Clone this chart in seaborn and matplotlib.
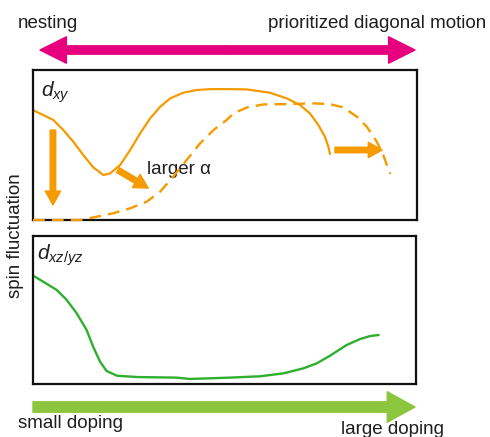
import numpy as np
import seaborn as sns
import matplotlib.pyplot as plt

# schematic: spin fluctuation vs doping for d_xy and d_xz/yz orbitals
# x = doping (0..1 across panel), y = fluctuation strength (0..1)

# d_xy, small alpha (solid)
xy_x = [0.0, 0.027, 0.053, 0.079, 0.105, 0.131, 0.157, 0.183, 0.201, 0.227,
        0.253, 0.279, 0.305, 0.331, 0.357, 0.391, 0.426, 0.461, 0.513, 0.557,
        0.617, 0.661, 0.695, 0.721, 0.743, 0.760, 0.769, 0.773]
xy_y = [0.733, 0.70, 0.667, 0.60, 0.522, 0.433, 0.351, 0.30, 0.311, 0.367,
        0.467, 0.578, 0.678, 0.755, 0.811, 0.849, 0.867, 0.873, 0.873, 0.871,
        0.849, 0.811, 0.767, 0.711, 0.633, 0.555, 0.489, 0.44]

# d_xy, larger alpha (dashed)
xy2_x = [0.0, 0.122, 0.166, 0.209, 0.253, 0.296, 0.331, 0.365, 0.40, 0.435,
         0.47, 0.504, 0.522, 0.557, 0.60, 0.661, 0.73, 0.773, 0.808, 0.843,
         0.869, 0.895, 0.912, 0.921, 0.93]
xy2_y = [0.0, 0.0, 0.022, 0.045, 0.078, 0.122, 0.189, 0.289, 0.40, 0.511,
         0.60, 0.667, 0.711, 0.751, 0.771, 0.773, 0.778, 0.773, 0.751, 0.689,
         0.622, 0.522, 0.433, 0.367, 0.307]

# d_xz/yz (green)
xz_x = [0.0, 0.027, 0.062, 0.088, 0.114, 0.14, 0.157, 0.175, 0.192, 0.219,
        0.271, 0.375, 0.41, 0.514, 0.593, 0.654, 0.706, 0.741, 0.775, 0.819,
        0.854, 0.88, 0.902]
xz_y = [0.732, 0.691, 0.635, 0.568, 0.478, 0.365, 0.252, 0.151, 0.088, 0.056,
        0.047, 0.043, 0.034, 0.043, 0.052, 0.072, 0.106, 0.14, 0.191, 0.264,
        0.304, 0.324, 0.331]

orange = "#F59B00"
green = "#2EAF2E"
magenta = "#E6007E"
lime = "#8CC63F"
txt = "#1e1e1e"

sns.set_style("white")
plt.rcParams['font.family'] = ['Liberation Sans', 'DejaVu Sans']
plt.rcParams['mathtext.fontset'] = 'custom'
plt.rcParams['mathtext.it'] = 'Liberation Sans:italic'
plt.rcParams['mathtext.rm'] = 'Liberation Sans'

fig = plt.figure(figsize=(4.9, 4.37), dpi=100)
ax1 = fig.add_axes([0.0673, 0.4966, 0.784, 0.343])
ax2 = fig.add_axes([0.0673, 0.1213, 0.782, 0.3387])
over = fig.add_axes([0, 0, 1, 1], facecolor="none")
over.set_xlim(0, 490)
over.set_ylim(437, 0)
over.axis("off")

for ax in (ax1, ax2):
    ax.set_xlim(0, 1)
    ax.set_ylim(0, 1)
    ax.set_xticks([])
    ax.set_yticks([])
    for s in ax.spines.values():
        s.set_visible(True)
        s.set_color("#111111")
        s.set_linewidth(1.6)

# top panel
sns.lineplot(x=xy_x, y=xy_y, ax=ax1, color=orange, lw=1.6,
             solid_joinstyle="round", solid_capstyle="round")
l2 = sns.lineplot(x=xy2_x, y=xy2_y, ax=ax1, color=orange, lw=1.7).lines[-1]
l2.set_dashes((5, 3))
l2.set_clip_on(False)
l2.set_zorder(4)

arr = dict(arrowstyle="simple,head_width=1.1,head_length=1.0,tail_width=0.4",
           color=orange, shrinkA=0, shrinkB=0)
ax1.annotate("", xy=(0.052, 0.10), xytext=(0.052, 0.60), arrowprops=arr)
ax1.annotate("", xy=(0.30, 0.213), xytext=(0.221, 0.333), arrowprops=arr)
ax1.annotate("", xy=(0.909, 0.467), xytext=(0.786, 0.467), arrowprops=arr)
ax1.text(0.298, 0.34, "larger α", fontsize=13.5, va="center", ha="left", color=txt)
ax1.text(0.02, 0.85, r"$d_{xy}$", fontsize=15, va="center", ha="left", color=txt)

# bottom panel
sns.lineplot(x=xz_x, y=xz_y, ax=ax2, color=green, lw=1.7,
             solid_joinstyle="round", solid_capstyle="round")
ax2.text(0.01, 0.87, r"$d_{xz/yz}$", fontsize=15, va="center", ha="left", color=txt)

# outer arrows and labels (figure pixels)
big = dict(arrowstyle="simple,head_width=1.9,head_length=1.9,tail_width=0.6",
           color=magenta, shrinkA=0, shrinkB=0)
over.annotate("", xy=(40, 50), xytext=(228, 50), arrowprops=big)
over.annotate("", xy=(415, 50), xytext=(226, 50), arrowprops=big)
over.text(18, 24, "nesting", fontsize=13.5, va="center", ha="left", color=txt)
over.text(486, 24, "prioritized diagonal motion", fontsize=13.5, va="center", ha="right", color=txt)

grn = dict(arrowstyle="simple,head_width=2.2,head_length=2.0,tail_width=0.75",
           color=lime, shrinkA=0, shrinkB=0)
over.annotate("", xy=(415, 407), xytext=(33, 407), arrowprops=grn)
over.text(18, 423, "small doping", fontsize=13.5, va="center", ha="left", color=txt)
over.text(444, 429, "large doping", fontsize=13.5, va="center", ha="right", color=txt)

over.text(15, 236, "spin fluctuation", fontsize=13.5, rotation=90, va="center", ha="center", color=txt)

fig.savefig("out.png", dpi=100)
